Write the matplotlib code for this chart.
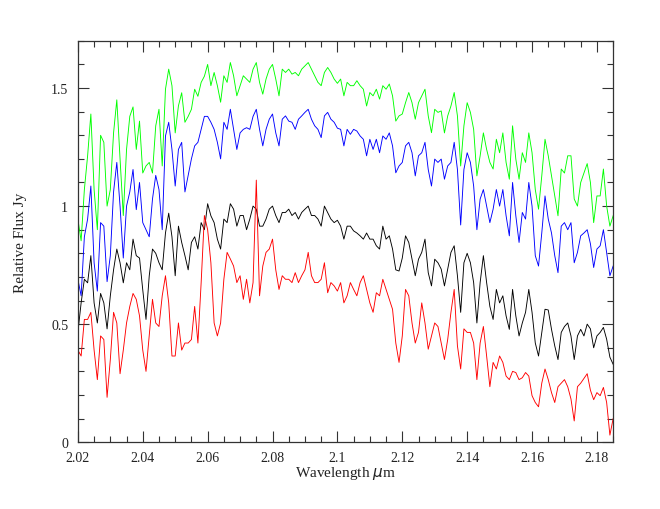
import numpy as np
import matplotlib
matplotlib.use("Agg")
import matplotlib.pyplot as plt
from matplotlib.ticker import MultipleLocator, FuncFormatter

wavelength = [round(2.020 + 0.001 * i, 3) for i in range(166)]

green = [0.945, 0.853, 1.07, 1.213, 1.39, 1.07, 0.90, 1.30, 1.27, 1.00,
         1.07, 1.31, 1.45, 1.20, 0.96, 1.24, 1.38, 1.42, 1.24, 1.36,
         1.14, 1.17, 1.185, 1.14, 1.34, 1.41, 1.17, 1.495, 1.58, 1.51,
         1.31, 1.425, 1.48, 1.355, 1.38, 1.41, 1.495, 1.465, 1.524, 1.55,
         1.60, 1.51, 1.566, 1.51, 1.44, 1.552, 1.524, 1.608, 1.552, 1.467,
         1.51, 1.552, 1.538, 1.524, 1.58, 1.608, 1.524, 1.474, 1.538, 1.58,
         1.60, 1.538, 1.467, 1.58, 1.566, 1.58, 1.559, 1.566, 1.552, 1.58,
         1.594, 1.608, 1.58, 1.552, 1.524, 1.51, 1.566, 1.587, 1.566, 1.538,
         1.52, 1.538, 1.467, 1.524, 1.51, 1.51, 1.531, 1.51, 1.495, 1.424,
         1.481, 1.467, 1.495, 1.453, 1.51, 1.495, 1.517, 1.467, 1.36, 1.382,
         1.39, 1.438, 1.481, 1.438, 1.368, 1.438, 1.467, 1.495, 1.382, 1.311,
         1.41, 1.397, 1.403, 1.31, 1.382, 1.424, 1.481, 1.382, 1.17, 1.34,
         1.438, 1.397, 1.325, 1.128, 1.213, 1.31, 1.24, 1.185, 1.157, 1.283,
         1.226, 1.31, 1.185, 1.114, 1.34, 1.199, 1.114, 1.226, 1.185, 1.31,
         1.226, 1.07, 0.987, 1.128, 1.283, 1.213, 1.128, 1.043, 0.959, 1.157,
         1.14, 1.213, 1.213, 1.03, 1.0, 1.1, 1.14, 1.18, 1.10, 0.93,
         1.043, 1.043, 1.157, 1.0, 0.915, 0.959]

blue = [0.69, 0.62, 0.87, 0.945, 1.085, 0.76, 0.64, 0.93, 0.915, 0.68,
        0.79, 1.06, 1.185, 1.0, 0.78, 1.0, 1.06, 1.155, 0.985, 1.1,
        0.93, 0.90, 0.87, 1.03, 1.13, 1.07, 0.90, 1.297, 1.355, 1.24,
        1.085, 1.24, 1.27, 1.06, 1.13, 1.20, 1.255, 1.27, 1.325, 1.38,
        1.38, 1.355, 1.325, 1.27, 1.20, 1.355, 1.325, 1.41, 1.325, 1.24,
        1.31, 1.325, 1.332, 1.325, 1.38, 1.41, 1.325, 1.255, 1.325, 1.368,
        1.39, 1.31, 1.255, 1.368, 1.382, 1.36, 1.355, 1.325, 1.368, 1.382,
        1.397, 1.41, 1.368, 1.34, 1.325, 1.29, 1.382, 1.397, 1.368, 1.355,
        1.33, 1.325, 1.255, 1.325, 1.304, 1.325, 1.318, 1.297, 1.283, 1.213,
        1.283, 1.24, 1.283, 1.226, 1.297, 1.283, 1.31, 1.255, 1.141, 1.17,
        1.185, 1.255, 1.27, 1.226, 1.128, 1.213, 1.226, 1.27, 1.155, 1.085,
        1.199, 1.185, 1.199, 1.114, 1.17, 1.185, 1.27, 1.155, 0.92, 1.155,
        1.226, 1.185, 1.085, 0.90, 1.03, 1.07, 1.0, 0.93, 0.987, 1.07,
        1.0, 1.07, 0.959, 0.874, 1.1, 0.959, 0.846, 0.973, 0.945, 1.1,
        1.0, 0.79, 0.746, 0.886, 1.043, 0.945, 0.886, 0.79, 0.718, 0.915,
        0.93, 0.90, 0.93, 0.76, 0.804, 0.874, 0.886, 0.90, 0.84, 0.74,
        0.818, 0.832, 0.90, 0.804, 0.705, 0.746]

black = [0.465, 0.59, 0.69, 0.675, 0.79, 0.59, 0.505, 0.63, 0.59, 0.48,
         0.62, 0.73, 0.818, 0.76, 0.675, 0.76, 0.73, 0.86, 0.79, 0.78,
         0.645, 0.52, 0.705, 0.818, 0.80, 0.76, 0.73, 0.886, 0.97, 0.87,
         0.705, 0.915, 0.846, 0.79, 0.73, 0.846, 0.87, 0.818, 0.93, 0.90,
         1.01, 0.959, 0.93, 0.86, 0.818, 0.945, 0.93, 1.01, 0.987, 0.915,
         0.96, 0.96, 0.90, 0.945, 1.0, 0.987, 0.915, 0.915, 0.945, 0.987,
         1.0, 0.96, 0.93, 0.973, 0.973, 0.987, 0.96, 0.973, 0.945, 0.973,
         0.987, 1.0, 0.96, 0.96, 0.945, 0.915, 1.0, 0.973, 0.945, 0.93,
         0.94, 0.915, 0.86, 0.915, 0.915, 0.895, 0.886, 0.874, 0.86, 0.886,
         0.86, 0.86, 0.832, 0.818, 0.915, 0.86, 0.874, 0.818, 0.73, 0.725,
         0.78, 0.874, 0.846, 0.775, 0.705, 0.775, 0.804, 0.86, 0.718, 0.662,
         0.775, 0.76, 0.733, 0.662, 0.733, 0.804, 0.832, 0.705, 0.55, 0.76,
         0.80, 0.76, 0.676, 0.505, 0.676, 0.79, 0.676, 0.575, 0.52, 0.647,
         0.59, 0.62, 0.535, 0.478, 0.647, 0.535, 0.45, 0.505, 0.55, 0.647,
         0.55, 0.42, 0.365, 0.465, 0.563, 0.56, 0.478, 0.408, 0.35, 0.465,
         0.49, 0.505, 0.45, 0.35, 0.45, 0.478, 0.45, 0.50, 0.48, 0.40,
         0.45, 0.465, 0.486, 0.436, 0.36, 0.33]

red = [0.39, 0.365, 0.52, 0.52, 0.55, 0.39, 0.265, 0.45, 0.435, 0.19,
       0.35, 0.55, 0.505, 0.29, 0.39, 0.505, 0.575, 0.63, 0.605, 0.535,
       0.39, 0.30, 0.45, 0.605, 0.505, 0.49, 0.62, 0.705, 0.59, 0.365,
       0.365, 0.505, 0.39, 0.42, 0.42, 0.435, 0.575, 0.42, 0.676, 0.96,
       0.90, 0.76, 0.505, 0.45, 0.505, 0.69, 0.804, 0.776, 0.746, 0.676,
       0.705, 0.605, 0.69, 0.59, 0.676, 1.11, 0.62, 0.746, 0.804, 0.818,
       0.86, 0.73, 0.647, 0.705, 0.69, 0.69, 0.676, 0.718, 0.676, 0.705,
       0.73, 0.804, 0.705, 0.676, 0.676, 0.69, 0.76, 0.633, 0.676, 0.662,
       0.64, 0.676, 0.59, 0.62, 0.676, 0.647, 0.62, 0.676, 0.705, 0.647,
       0.59, 0.55, 0.633, 0.62, 0.69, 0.647, 0.605, 0.563, 0.42, 0.338,
       0.45, 0.647, 0.62, 0.505, 0.42, 0.465, 0.59, 0.505, 0.394, 0.45,
       0.505, 0.49, 0.42, 0.35, 0.435, 0.55, 0.647, 0.408, 0.31, 0.48,
       0.465, 0.465, 0.42, 0.265, 0.42, 0.49, 0.365, 0.235, 0.338, 0.31,
       0.365, 0.338, 0.28, 0.265, 0.30, 0.295, 0.265, 0.273, 0.295, 0.28,
       0.197, 0.168, 0.15, 0.25, 0.31, 0.265, 0.21, 0.168, 0.235, 0.25,
       0.265, 0.235, 0.183, 0.09, 0.235, 0.25, 0.27, 0.29, 0.22, 0.18,
       0.21, 0.197, 0.232, 0.168, 0.03, 0.10]

x_ticks = [2.02, 2.04, 2.06, 2.08, 2.1, 2.12, 2.14, 2.16, 2.18]
y_ticks = [0, 0.5, 1, 1.5]

plt.rcParams['font.family'] = ['Liberation Serif', 'DejaVu Serif']

fig = plt.figure(figsize=(6.6, 5.1), dpi=100)
ax = fig.add_axes([0.118, 0.131, 0.811, 0.787])

lw = 0.65
ax.plot(wavelength, green, color='#00ff00', lw=lw)
ax.plot(wavelength, blue, color='#0000ff', lw=lw)
ax.plot(wavelength, black, color='#000000', lw=lw)
ax.plot(wavelength, red, color='#ff0000', lw=lw)

ax.set_xlim(2.02, 2.185)
ax.set_ylim(0, 1.7)
ax.set_xticks(x_ticks)
ax.set_yticks(y_ticks)
ax.xaxis.set_minor_locator(MultipleLocator(0.005))
ax.yaxis.set_minor_locator(MultipleLocator(0.1))
fmt = FuncFormatter(lambda v, p: ('%g' % round(v, 3)))
ax.xaxis.set_major_formatter(fmt)
ax.yaxis.set_major_formatter(fmt)
ax.tick_params(which='both', direction='in', top=True, right=True,
               colors='#333333', labelcolor='#222222', labelsize=10)
ax.tick_params(axis='x', which='major', pad=6)
ax.tick_params(axis='y', which='major', pad=7)
ax.tick_params(which='major', length=8, width=0.8)
ax.tick_params(which='minor', length=4, width=0.8)
for s in ax.spines.values():
    s.set_color('#333333')
    s.set_linewidth(0.9)

ax.set_xlabel('Wavelength $\\mu$m', fontsize=11, color='#222222', labelpad=0)
ax.set_ylabel('Relative Flux Jy', fontsize=11, color='#222222', labelpad=17)

fig.savefig('out.png', dpi=100)
